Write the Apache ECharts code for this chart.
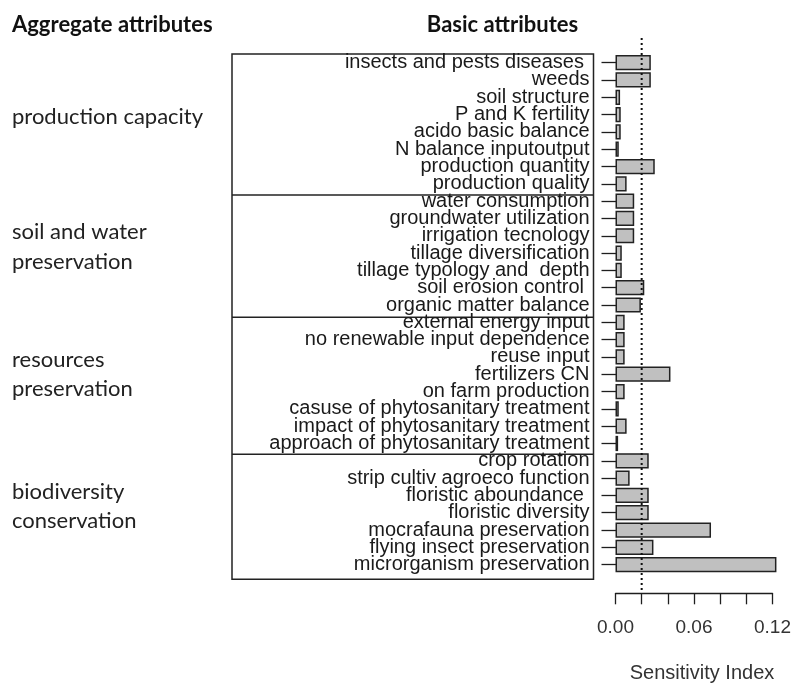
<!DOCTYPE html>
<html>
<head>
<meta charset="utf-8">
<script src="https://cdn.jsdelivr.net/npm/echarts@6/dist/echarts.min.js"></script>
<style>
html,body{margin:0;padding:0;background:#fff;}
#chart{width:794px;height:684px;}
</style>
</head>
<body>
<div id="chart"></div>
<script>
// Basic attributes (top to bottom)
const categories = [
  'insects and pests diseases ', 'weeds', 'soil structure', 'P and K fertility',
  'acido basic balance', 'N balance inputoutput', 'production quantity', 'production quality',
  'water consumption', 'groundwater utilization', 'irrigation tecnology', 'tillage diversification',
  'tillage typology and  depth', 'soil erosion control ', 'organic matter balance',
  'external energy input', 'no renewable input dependence', 'reuse input', 'fertilizers CN',
  'on farm production', 'casuse of phytosanitary treatment', 'impact of phytosanitary treatment',
  'approach of phytosanitary treatment',
  'crop rotation', 'strip cultiv agroeco function', 'floristic aboundance ', 'floristic diversity',
  'mocrafauna preservation', 'flying insect preservation', 'microrganism preservation'
];
// Sensitivity index values
const sensitivity = [
  0.027, 0.027, 0.0035, 0.004, 0.004, 0.0025, 0.030, 0.0085,
  0.0143, 0.0143, 0.0143, 0.0048, 0.0048, 0.022, 0.0194,
  0.007, 0.007, 0.007, 0.042, 0.007, 0.0025, 0.0085, 0.002,
  0.0254, 0.0108, 0.0254, 0.0254, 0.073, 0.029, 0.123
];
// Aggregate attributes
const aggregateLabels = [
  ['production capacity'],
  ['soil and water', 'preservation'],
  ['resources', 'preservation'],
  ['biodiversity', 'conservation']
];
const xTickLabels = ['0.00', '0.06', '0.12'];
const referenceValue = 0.02;
const xTitle = 'Sensitivity Index';

const chart = echarts.init(document.getElementById('chart'), null, {renderer: 'canvas'});
const txt = '#1e1e1e';
const rFont = "'Liberation Sans', Arial, sans-serif";
const cFont = "Lato, 'Open Sans', sans-serif";

chart.setOption({
  animation: false,
  backgroundColor: '#fff',
  grid: {left: 615.5, width: 159, top: 54, height: 519.3, containLabel: false},
  xAxis: {
    type: 'value', min: 0, max: 0.12, interval: 0.02, offset: 20,
    axisLine: {show: true, lineStyle: {color: txt, width: 1.3}},
    axisTick: {show: true, length: 11, lineStyle: {color: txt, width: 1.3}},
    splitLine: {show: false},
    axisLabel: {
      margin: 25, fontSize: 19, color: '#333', fontFamily: rFont,
      formatter: function (v) {
        const s = v.toFixed(2);
        return xTickLabels.indexOf(s) >= 0 ? s : '';
      }
    }
  },
  yAxis: {
    type: 'category', data: categories, inverse: true, offset: -1.5,
    axisLine: {show: false},
    axisTick: {show: true, alignWithLabel: true, length: 15.5, lineStyle: {color: txt, width: 1.3}},
    axisLabel: {margin: 27.5, fontSize: 20, color: '#1a1a1a', fontFamily: rFont, interval: 0}
  },
  series: [{
    type: 'bar', data: sensitivity, clip: false,
    barCategoryGap: '12%',
    itemStyle: {color: '#c0c0c0', borderColor: '#222', borderWidth: 1.5}
  }]
});

const xRef = chart.convertToPixel({xAxisIndex: 0}, referenceValue);
const graphics = [
  {type: 'line', shape: {x1: xRef, y1: 38, x2: xRef, y2: 593}, z: 100,
   style: {stroke: '#111', lineWidth: 2, lineDash: [2, 3]}},
  {type: 'rect', shape: {x: 232, y: 54, width: 361.5, height: 525.3},
   style: {fill: 'none', stroke: '#222', lineWidth: 1.5}},
  {type: 'line', shape: {x1: 232, y1: 195, x2: 593.5, y2: 195}, style: {stroke: '#222', lineWidth: 1.5}},
  {type: 'line', shape: {x1: 232, y1: 317.3, x2: 593.5, y2: 317.3}, style: {stroke: '#222', lineWidth: 1.5}},
  {type: 'line', shape: {x1: 232, y1: 454.3, x2: 593.5, y2: 454.3}, style: {stroke: '#222', lineWidth: 1.5}},
  {type: 'text', x: 12, y: 25, style: {text: 'Aggregate attributes', font: "bold 22px " + cFont, fill: '#111', textVerticalAlign: 'middle'}},
  {type: 'text', x: 502.5, y: 25, style: {text: 'Basic attributes', font: "bold 22px " + cFont, fill: '#111', textAlign: 'center', textVerticalAlign: 'middle'}},
  {type: 'text', x: 702, y: 673, style: {text: xTitle, font: "20px " + rFont, fill: '#333', textAlign: 'center', textVerticalAlign: 'middle'}}
];
const aggY = [[117], [232, 262], [360, 389], [492, 521]];
aggregateLabels.forEach(function (lines, i) {
  lines.forEach(function (line, j) {
    graphics.push({type: 'text', x: 12, y: aggY[i][j],
      style: {text: line, font: "22px " + cFont, fill: '#222', textVerticalAlign: 'middle'}});
  });
});
chart.setOption({graphic: graphics});
</script>
</body>
</html>
